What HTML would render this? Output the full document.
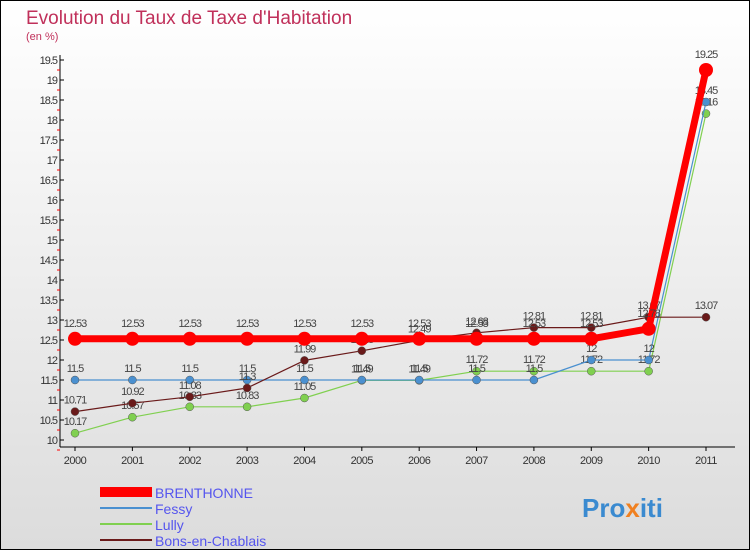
<!DOCTYPE html>
<html><head><meta charset="utf-8"><style>
body{margin:0}
svg text{font-family:"Liberation Sans",sans-serif}
</style></head><body>
<svg id="c" width="750" height="550" xmlns="http://www.w3.org/2000/svg">
<defs><linearGradient id="bg" x1="0" y1="0" x2="0" y2="1"><stop offset="0" stop-color="#ffffff"/><stop offset="1" stop-color="#dcdcdc"/></linearGradient></defs>
<rect x="0.5" y="0.5" width="749" height="549" fill="url(#bg)" stroke="#000"/>
<text x="26" y="24" font-size="19" fill="#c0305a">Evolution du Taux de Taxe d'Habitation</text>
<text x="26" y="40" font-size="11" fill="#c0305a">(en %)</text>
<g id="axes"></g><g id="series"></g>
<g>
<rect x="100" y="487" width="52" height="10" fill="#f00"/>
<text x="155" y="498" font-size="14" fill="#5555ee">BRENTHONNE</text>
<rect x="100" y="507" width="52" height="2" fill="#4a90d0"/>
<text x="155" y="514" font-size="14" fill="#5555ee">Fessy</text>
<rect x="100" y="523" width="52" height="2" fill="#80d050"/>
<text x="155" y="530" font-size="14" fill="#5555ee">Lully</text>
<rect x="100" y="539" width="52" height="2" fill="#6a1a1a"/>
<text x="155" y="546" font-size="14" fill="#5555ee">Bons-en-Chablais</text>
</g>
<text x="582" y="517" font-size="26" font-weight="bold" fill="#3a8ad0">Pro<tspan fill="#f08020">x</tspan>iti</text>
</svg>
<script>
const years=["2000","2001","2002","2003","2004","2005","2006","2007","2008","2009","2010","2011"];
const brenthonne=[12.53,12.53,12.53,12.53,12.53,12.53,12.53,12.53,12.53,12.53,12.78,19.25];
const fessy=[11.5,11.5,11.5,11.5,11.5,11.5,11.5,11.5,11.5,12,12,18.45];
const lully=[10.17,10.57,10.83,10.83,11.05,11.49,11.49,11.72,11.72,11.72,11.72,18.16];
const bons=[10.71,10.92,11.08,11.3,11.99,12.23,12.49,12.68,12.81,12.81,13.07,13.07];
const yTicks=[10,10.5,11,11.5,12,12.5,13,13.5,14,14.5,15,15.5,16,16.5,17,17.5,18,18.5,19,19.5];
const NS="http://www.w3.org/2000/svg";
const X=i=>75+i*(706-75)/11, Y=v=>440-(v-10)*40;
function mk(t,a,p){const e=document.createElementNS(NS,t);for(const k in a)e.setAttribute(k,a[k]);p.appendChild(e);return e;}
const ax=document.getElementById('axes'), sg=document.getElementById('series');
let l=mk('line',{x1:60,y1:55,x2:60,y2:447,stroke:'#000'},ax);


l=mk('line',{x1:60,y1:447,x2:735,y2:447,stroke:'#000'},ax);


yTicks.forEach(v=>{const y=Y(v);
 mk('line',{x1:60,y1:y,x2:64,y2:y,stroke:'#000'},ax);
 mk('line',{x1:57,y1:y+10,x2:60,y2:y+10,stroke:'#f00'},ax);
 const t=mk('text',{x:57,y:y+4,'font-size':11,'text-anchor':'end',fill:'#333','letter-spacing':'-1'},ax);t.textContent=v;
 
 });
years.forEach((yr,i)=>{const x=X(i);
 mk('line',{x1:x,y1:447,x2:x,y2:451,stroke:'#000'},ax);
 const t=mk('text',{x:x,y:464,'font-size':11,'text-anchor':'middle',fill:'#333','letter-spacing':'-0.5'},ax);t.textContent=yr;
 
 });
function series(name,d,col,w,r,labelDy){
 const g=mk('g',{},sg);
 
 
 mk('polyline',{points:d.map((v,i)=>X(i)+','+Y(v)).join(' '),fill:'none',stroke:col,'stroke-width':w,'stroke-linejoin':'round'},g);
 d.forEach((v,i)=>{const c=mk('circle',{cx:X(i),cy:Y(v),r:r,fill:col,stroke:r>4?'none':'#555','stroke-width':0.5},g);
  
  
  const t=mk('text',{x:X(i),y:Y(v)+labelDy,'font-size':11,'text-anchor':'middle',fill:'#444','letter-spacing':'-1'},g);t.textContent=v;
  
  });
}
series('lully',lully,'#80d050',1.2,4,-8);
series('fessy',fessy,'#4a90d0',1.2,4,-8);
series('bons',bons,'#6a1a1a',1.2,4,-8);
series('brenthonne',brenthonne,'#f00',7,7,-12);
</script>
</body></html>
